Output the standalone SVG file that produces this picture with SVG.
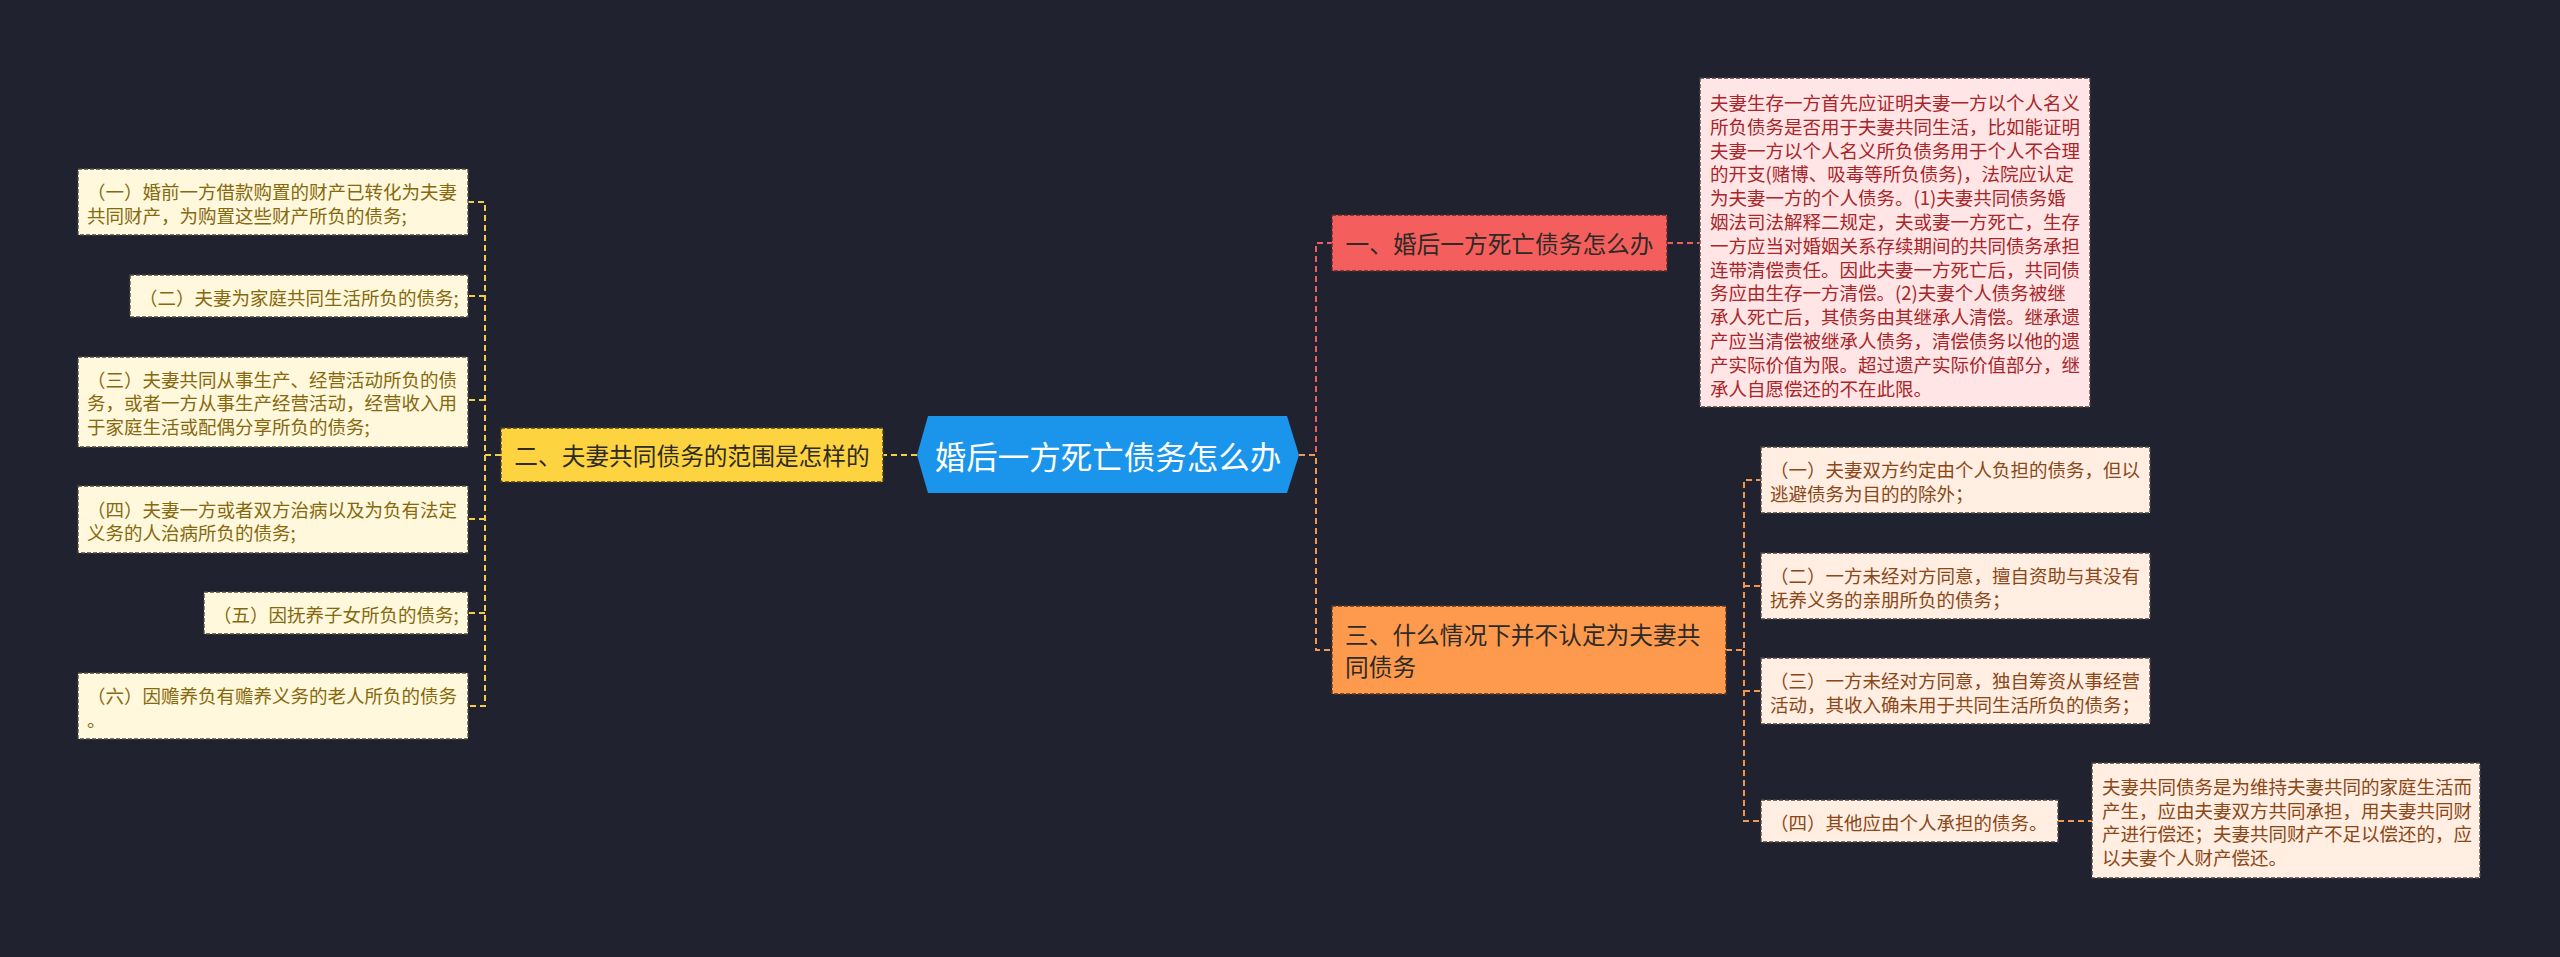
<svg xmlns="http://www.w3.org/2000/svg" width="2560" height="957" viewBox="0 0 2560 957">
<style>
text{font-family:"Noto Sans CJK SC","Noto Sans",sans-serif;dominant-baseline:central}
.ln{fill:none;stroke-width:2;stroke-dasharray:6 4}
.y{stroke:#f2cd45}.r{stroke:#ee5e5e}.o{stroke:#f4984f}
.bd{stroke-width:1.3;stroke-dasharray:4 2}
.lc{fill:#fff8dc;stroke:#4a4a40}
.lt{fill:#86680f;font-size:18.5px}
.rc{fill:#ffeee1;stroke:#4a4540}
.rt{fill:#8b4718;font-size:18.5px}
.pc{fill:#ffe5e5;stroke:#4a4040}
.pt{fill:#a8262a;font-size:18.5px}
.mt{fill:#2e2a25;font-size:23.7px}
</style>
<rect width="2560" height="957" fill="#20232f"/>
<g id="connectors">
<path class="ln y" d="M917,455 H883"/>
<path class="ln y" d="M501,455 H485 V202 H468 M485,296 H468 M485,400 H468 M485,519 H468 M485,613 H468 M485,455 V706 H468"/>
<path class="ln r" d="M1299,455 H1316 V243 H1332"/>
<path class="ln r" d="M1667,243 H1700"/>
<path class="ln o" d="M1299,455 H1316 V650 H1332"/>
<path class="ln o" d="M1726,650 H1744 V480 H1761 M1744,586 H1761 M1744,691 H1761 M1744,650 V821 H1761"/>
<path class="ln o" d="M2058,821 H2092"/>
</g>
<g id="center">
<polygon points="917,455 928,416 1287,416 1299,455 1287,493 928,493" fill="#1b95eb"/>
<text x="1108" y="455" fill="#ffffff" font-size="31.5" text-anchor="middle">婚后一方死亡债务怎么办</text>
</g>
<g id="branch-left">
<rect class="bd" x="501" y="428" width="382" height="54" fill="#fdd43f" stroke="#4a4020"/>
<text class="mt" x="692" y="455" text-anchor="middle">二、夫妻共同债务的范围是怎样的</text>
</g>
<g id="branch-1">
<rect class="bd" x="1332" y="215" width="335" height="56" fill="#f45f5e" stroke="#5a2a2a"/>
<text class="mt" x="1499.5" y="243" text-anchor="middle">一、婚后一方死亡债务怎么办</text>
</g>
<g id="branch-3">
<rect class="bd" x="1332" y="606" width="394" height="88" fill="#fd9a4e" stroke="#5a3a20"/>
<text class="mt" x="1345" y="634">三、什么情况下并不认定为夫妻共</text>
<text class="mt" x="1345" y="666">同债务</text>
</g>
<g id="left-1">
<rect class="bd lc" x="78" y="169" width="390" height="66"/>
<text class="lt" x="87" y="191">（一）婚前一方借款购置的财产已转化为夫妻</text>
<text class="lt" x="87" y="214.5">共同财产，为购置这些财产所负的债务;</text>
</g>
<g id="left-2">
<rect class="bd lc" x="130" y="275" width="338" height="42"/>
<text class="lt" x="139" y="297">（二）夫妻为家庭共同生活所负的债务;</text>
</g>
<g id="left-3">
<rect class="bd lc" x="78" y="357" width="390" height="90"/>
<text class="lt" x="87" y="378.5">（三）夫妻共同从事生产、经营活动所负的债</text>
<text class="lt" x="87" y="402">务，或者一方从事生产经营活动，经营收入用</text>
<text class="lt" x="87" y="425.5">于家庭生活或配偶分享所负的债务;</text>
</g>
<g id="left-4">
<rect class="bd lc" x="78" y="486" width="390" height="67"/>
<text class="lt" x="87" y="508.5">（四）夫妻一方或者双方治病以及为负有法定</text>
<text class="lt" x="87" y="532">义务的人治病所负的债务;</text>
</g>
<g id="left-5">
<rect class="bd lc" x="204" y="592" width="264" height="42"/>
<text class="lt" x="213" y="614">（五）因抚养子女所负的债务;</text>
</g>
<g id="left-6">
<rect class="bd lc" x="78" y="673" width="390" height="66"/>
<text class="lt" x="87" y="695">（六）因赡养负有赡养义务的老人所负的债务</text>
<text class="lt" x="87" y="718.5">。</text>
</g>
<g id="detail-1">
<rect class="bd pc" x="1700" y="78" width="390" height="329"/>
<text class="pt" x="1710" y="102">夫妻生存一方首先应证明夫妻一方以个人名义</text>
<text class="pt" x="1710" y="125.8">所负债务是否用于夫妻共同生活，比如能证明</text>
<text class="pt" x="1710" y="149.6">夫妻一方以个人名义所负债务用于个人不合理</text>
<text class="pt" x="1710" y="173.4">的开支(赌博、吸毒等所负债务)，法院应认定</text>
<text class="pt" x="1710" y="197.2">为夫妻一方的个人债务。(1)夫妻共同债务婚</text>
<text class="pt" x="1710" y="221">姻法司法解释二规定，夫或妻一方死亡，生存</text>
<text class="pt" x="1710" y="244.8">一方应当对婚姻关系存续期间的共同债务承担</text>
<text class="pt" x="1710" y="268.6">连带清偿责任。因此夫妻一方死亡后，共同债</text>
<text class="pt" x="1710" y="292.4">务应由生存一方清偿。(2)夫妻个人债务被继</text>
<text class="pt" x="1710" y="316.2">承人死亡后，其债务由其继承人清偿。继承遗</text>
<text class="pt" x="1710" y="340">产应当清偿被继承人债务，清偿债务以他的遗</text>
<text class="pt" x="1710" y="363.8">产实际价值为限。超过遗产实际价值部分，继</text>
<text class="pt" x="1710" y="387.6">承人自愿偿还的不在此限。</text>
</g>
<g id="right-1">
<rect class="bd rc" x="1761" y="447" width="389" height="66"/>
<text class="rt" x="1770" y="469">（一）夫妻双方约定由个人负担的债务，但以</text>
<text class="rt" x="1770" y="492.5">逃避债务为目的的除外；</text>
</g>
<g id="right-2">
<rect class="bd rc" x="1761" y="553" width="389" height="66"/>
<text class="rt" x="1770" y="575">（二）一方未经对方同意，擅自资助与其没有</text>
<text class="rt" x="1770" y="598.5">抚养义务的亲朋所负的债务；</text>
</g>
<g id="right-3">
<rect class="bd rc" x="1761" y="658" width="389" height="66"/>
<text class="rt" x="1770" y="680">（三）一方未经对方同意，独自筹资从事经营</text>
<text class="rt" x="1770" y="703.5">活动，其收入确未用于共同生活所负的债务；</text>
</g>
<g id="right-4">
<rect class="bd rc" x="1761" y="800" width="297" height="42"/>
<text class="rt" x="1770" y="821.5">（四）其他应由个人承担的债务。</text>
</g>
<g id="detail-4">
<rect class="bd rc" x="2092" y="763" width="388" height="115"/>
<text class="rt" x="2102" y="786">夫妻共同债务是为维持夫妻共同的家庭生活而</text>
<text class="rt" x="2102" y="809.5">产生，应由夫妻双方共同承担，用夫妻共同财</text>
<text class="rt" x="2102" y="833">产进行偿还；夫妻共同财产不足以偿还的，应</text>
<text class="rt" x="2102" y="856.5">以夫妻个人财产偿还。</text>
</g>
</svg>
